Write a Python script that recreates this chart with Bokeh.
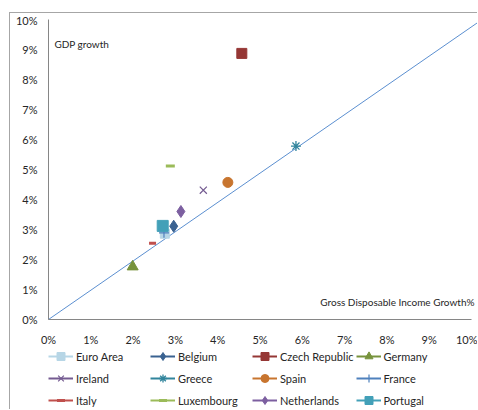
from bokeh.plotting import figure
from bokeh.models import (Range1d, Label, Legend, LegendItem, FixedTicker,
                          PrintfTickFormatter)
from bokeh.embed import file_html
from bokeh.resources import INLINE

# ---- data ----
countries = ["Euro Area", "Belgium", "Czech Republic", "Germany",
             "Ireland", "Greece", "Spain", "France",
             "Italy", "Luxembourg", "Netherlands", "Portugal"]
gdi_growth = [2.75, 2.96, 4.57, 1.99, 3.66, 5.85, 4.24, 2.73, 2.46, 2.88, 3.13, 2.70]
gdp_growth = [2.86, 3.11, 8.87, 1.76, 4.31, 5.78, 4.57, 2.89, 2.54, 5.12, 3.60, 3.12]
diag_x = [0.0, 10.25]
diag_y = [0.0, 10.0]
tick_values = list(range(0, 11))
x_title = "Gross Disposable Income Growth%"
y_title = "GDP growth"

# ---- styles ----
series_style = {
    "Euro Area":      dict(marker="square",   color="#b7d6e6", size=9,  lw=1),
    "Belgium":        dict(marker="diamond",  color="#3a6291", size=12, lw=1),
    "Czech Republic": dict(marker="square",   color="#953735", size=10, lw=1),
    "Germany":        dict(marker="triangle", color="#77933c", size=11, lw=1),
    "Ireland":        dict(marker="x",        color="#745b91", size=10, lw=1.2),
    "Greece":         dict(marker="asterisk", color="#31859c", size=10, lw=1.3),
    "Spain":          dict(marker="circle",   color="#c8752f", size=10, lw=1),
    "France":         dict(marker="cross",    color="#4f81bd", size=10, lw=1.2),
    "Italy":          dict(marker="dash",     color="#c0504d", size=7,  lw=3),
    "Luxembourg":     dict(marker="dash",     color="#9bbb59", size=9,  lw=3),
    "Netherlands":    dict(marker="diamond",  color="#7c5fa0", size=12, lw=1),
    "Portugal":       dict(marker="square",   color="#43a0b8", size=11, lw=1),
}
FONT = "Lato"
TXT = "#262626"
AXIS = "#868686"

p = figure(width=468, height=397, output_backend="svg", toolbar_location=None,
           x_range=Range1d(-0.898, 10.165), y_range=Range1d(-3.033, 10.2),
           min_border_left=0, min_border_top=0, min_border_right=0,
           min_border_bottom=0)
p.styles = {"border-top": "1px solid #a6a6a6", "border-left": "1px solid #a6a6a6",
            "margin-top": "12px", "margin-left": "9px"}
p.outline_line_color = None
p.grid.grid_line_color = None
p.background_fill_color = "white"
p.border_fill_color = "white"
p.xaxis.fixed_location = 0
p.yaxis.fixed_location = 0

for ax in (p.xaxis[0], p.yaxis[0]):
    ax.ticker = FixedTicker(ticks=tick_values)
    ax.formatter = PrintfTickFormatter(format="%d%%")
    ax.bounds = (0, 10)
    ax.axis_line_color = AXIS
    ax.axis_line_width = 1
    ax.major_tick_out = 0
    ax.major_tick_in = 0
    ax.minor_tick_out = 0
    ax.minor_tick_in = 0
    ax.major_label_text_font = FONT
    ax.major_label_text_font_size = "11px"
    ax.major_label_text_color = TXT
p.xaxis.major_label_standoff = 13
p.yaxis.major_label_standoff = 11

# diagonal reference line
p.line(diag_x, diag_y, line_color="#5b8fd0", line_width=1)

items = []
for name, gx, gy in zip(countries, gdi_growth, gdp_growth):
    st = series_style[name]
    lr = p.line([gx], [gy], line_color=st["color"], line_width=2)
    sr = p.scatter([gx], [gy], marker=st["marker"], size=st["size"],
                   fill_color=st["color"], line_color=st["color"],
                   line_width=st["lw"])
    items.append(LegendItem(label=name, renderers=[lr, sr]))

legend = Legend(items=items, ncols=4, orientation="horizontal",
                location=(38, 0), margin=0, padding=0, spacing=2,
                glyph_width=25, glyph_height=20, label_height=20,
                label_width=72, label_standoff=3,
                label_text_font=FONT, label_text_font_size="11px",
                label_text_color=TXT, border_line_color=None,
                background_fill_alpha=0)
p.add_layout(legend)

p.add_layout(Label(x=0.14, y=9.17, text=y_title, text_font=FONT,
                   text_font_size="10px", text_color=TXT,
                   text_baseline="middle", text_align="left"))
p.add_layout(Label(x=10.165, y=0.57, x_offset=-4, text=x_title, text_font=FONT,
                   text_font_size="10px", text_color=TXT,
                   text_baseline="middle", text_align="right"))

open("out.html", "w").write(file_html(p, INLINE))
